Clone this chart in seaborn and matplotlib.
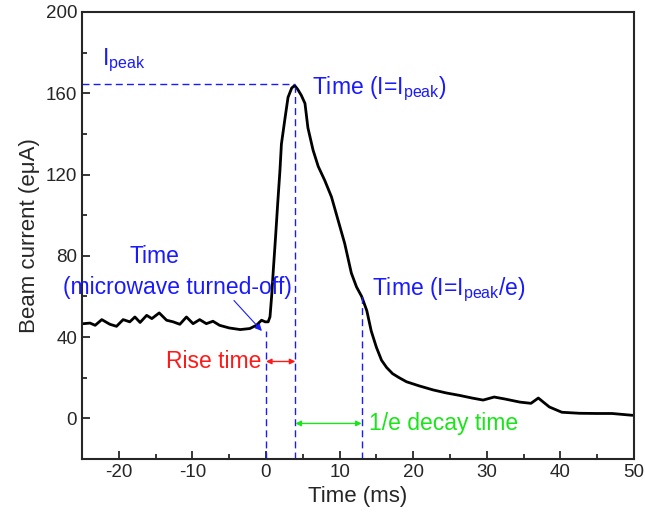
import numpy as np
import pandas as pd
import matplotlib
matplotlib.use('Agg')
import matplotlib.pyplot as plt
from matplotlib.ticker import MultipleLocator
import seaborn as sns

# ── Data ──────────────────────────────────────────────────────────────────────
time_ms = [-24.8, -23.9, -23.2, -22.3, -21.2, -20.3, -19.4, -18.5, -17.8, -17.1,
           -16.2, -15.5, -14.5, -13.5, -12.6, -11.7, -10.8, -9.9, -9.0, -8.1,
           -7.2, -6.3, -5.0, -3.5, -2.2, -1.3, -0.6, -0.1, 0.3, 0.55,
           0.77, 1.0, 1.3, 1.6, 1.9, 2.1, 2.6, 3.0, 3.5, 3.9,
           4.3, 4.8, 5.3, 5.7, 6.4, 7.1, 8.0, 8.9, 9.8, 10.7,
           11.6, 12.3, 13.0, 13.7, 14.3, 15.0, 15.7, 16.4, 17.2, 18.1,
           19.1, 20.8, 22.7, 24.5, 26.3, 28.0, 29.5, 31.0, 32.5, 34.5,
           36.0, 37.0, 38.5, 40.2, 42.6, 45.0, 47.0, 49.8]
current = [46.6, 46.9, 45.8, 48.6, 46.3, 45.3, 48.6, 47.5, 49.9, 47.2,
           50.7, 49.1, 51.9, 48.3, 47.5, 46.3, 49.9, 46.6, 48.6, 46.6,
           47.8, 45.8, 44.5, 43.7, 44.2, 45.8, 48.3, 47.5, 47.5, 50.0,
           60.0, 73.0, 89.0, 106.0, 122.0, 135.0, 148.0, 158.0, 162.6, 163.8,
           162.0, 159.0, 155.0, 143.0, 132.0, 124.0, 117.0, 109.0, 97.5, 86.0,
           71.5, 64.7, 60.0, 53.0, 43.0, 35.0, 28.6, 25.0, 22.0, 20.0,
           18.0, 16.0, 14.0, 12.5, 11.3, 10.0, 9.0, 10.5, 9.5, 8.0,
           7.4, 10.0, 5.6, 3.0, 2.5, 2.4, 2.4, 1.5]

T_OFF, T_PEAK, T_E = 0.0, 4.0, 13.0
I_PEAK = 164.5
I_E = I_PEAK / np.e

x_ticks = [-20, -10, 0, 10, 20, 30, 40, 50]
y_ticks = [0, 40, 80, 120, 160, 200]

df = pd.DataFrame({'Time (ms)': time_ms, 'Beam current': current})

# ── Style ─────────────────────────────────────────────────────────────────────
sns.set_style('ticks')
plt.rcParams['font.family'] = ['Liberation Sans', 'DejaVu Sans']
plt.rcParams['mathtext.fontset'] = 'custom'
plt.rcParams['mathtext.rm'] = 'Liberation Sans'
plt.rcParams['mathtext.it'] = 'Liberation Sans'
plt.rcParams['mathtext.default'] = 'regular'
plt.rcParams['axes.unicode_minus'] = False

BLUE, RED, GREEN = '#1a1aff', '#ff1a1a', '#19e619'
FS = 16.5

fig = plt.figure(figsize=(6.45, 5.21), dpi=100)
ax = fig.add_axes([0.127, 0.119, 0.856, 0.858])

sns.lineplot(data=df, x='Time (ms)', y='Beam current', ax=ax,
             color='black', linewidth=2, estimator=None, sort=False)

ax.set_xlim(-25, 50)
ax.set_ylim(-20, 200)
ax.set_xticks(x_ticks)
ax.set_yticks(y_ticks)
ax.xaxis.set_minor_locator(MultipleLocator(5))
ax.yaxis.set_minor_locator(MultipleLocator(20))
ax.tick_params(which='both', direction='in', width=1.3, labelsize=13.5,
               top=False, right=False)
ax.tick_params(which='major', length=6)
ax.tick_params(which='minor', length=3.5)
for s in ax.spines.values():
    s.set_linewidth(1.5)
ax.set_xlabel('Time (ms)', fontsize=16)
ax.set_ylabel('Beam current (e\u03bcA)', fontsize=16)

# ── Guide lines ───────────────────────────────────────────────────────────────
dash = dict(color=BLUE, linewidth=1, linestyle=(0, (5, 3)))
ax.plot([-25, T_PEAK], [I_PEAK, I_PEAK], **dash)
ax.plot([T_OFF, T_OFF], [-20, 43], **dash)
ax.plot([T_PEAK, T_PEAK], [-20, 163], **dash)
ax.plot([T_E, T_E], [-20, I_E], **dash)

# ── Labels ────────────────────────────────────────────────────────────────────
ax.text(-22.3, 176, r'I$_{peak}$', color=BLUE, fontsize=FS, va='center')
ax.text(6.3, 162, r'Time (I=I$_{peak}$)', color=BLUE, fontsize=FS, va='center')
ax.text(14.4, 63.5, r'Time (I=I$_{peak}$/e)', color=BLUE, fontsize=FS, va='center')
ax.text(-15.2, 79.5, 'Time', color=BLUE, fontsize=FS, ha='center', va='center')
ax.text(-12.0, 64.5, '(microwave turned-off)', color=BLUE, fontsize=FS,
        ha='center', va='center')
ax.annotate('', xy=(-0.3, 42), xytext=(-4.6, 59),
            arrowprops=dict(arrowstyle='-|>', color=BLUE, lw=0.8,
                            mutation_scale=10))

RISE_Y = 28
ax.annotate('', xy=(T_OFF, RISE_Y), xytext=(T_PEAK, RISE_Y),
            arrowprops=dict(arrowstyle='<|-|>', color=RED, lw=1,
                            mutation_scale=8, shrinkA=0, shrinkB=0))
ax.text(-0.6, RISE_Y, 'Rise time', color=RED, fontsize=FS, ha='right', va='center')

ax.annotate('', xy=(T_PEAK, -2.5), xytext=(T_E, -2.5),
            arrowprops=dict(arrowstyle='<|-|>', color=GREEN, lw=1,
                            mutation_scale=8, shrinkA=0, shrinkB=0))
ax.text(14.0, -2.5, '1/e decay time', color=GREEN, fontsize=FS, va='center')

fig.savefig('out.png', dpi=100)
